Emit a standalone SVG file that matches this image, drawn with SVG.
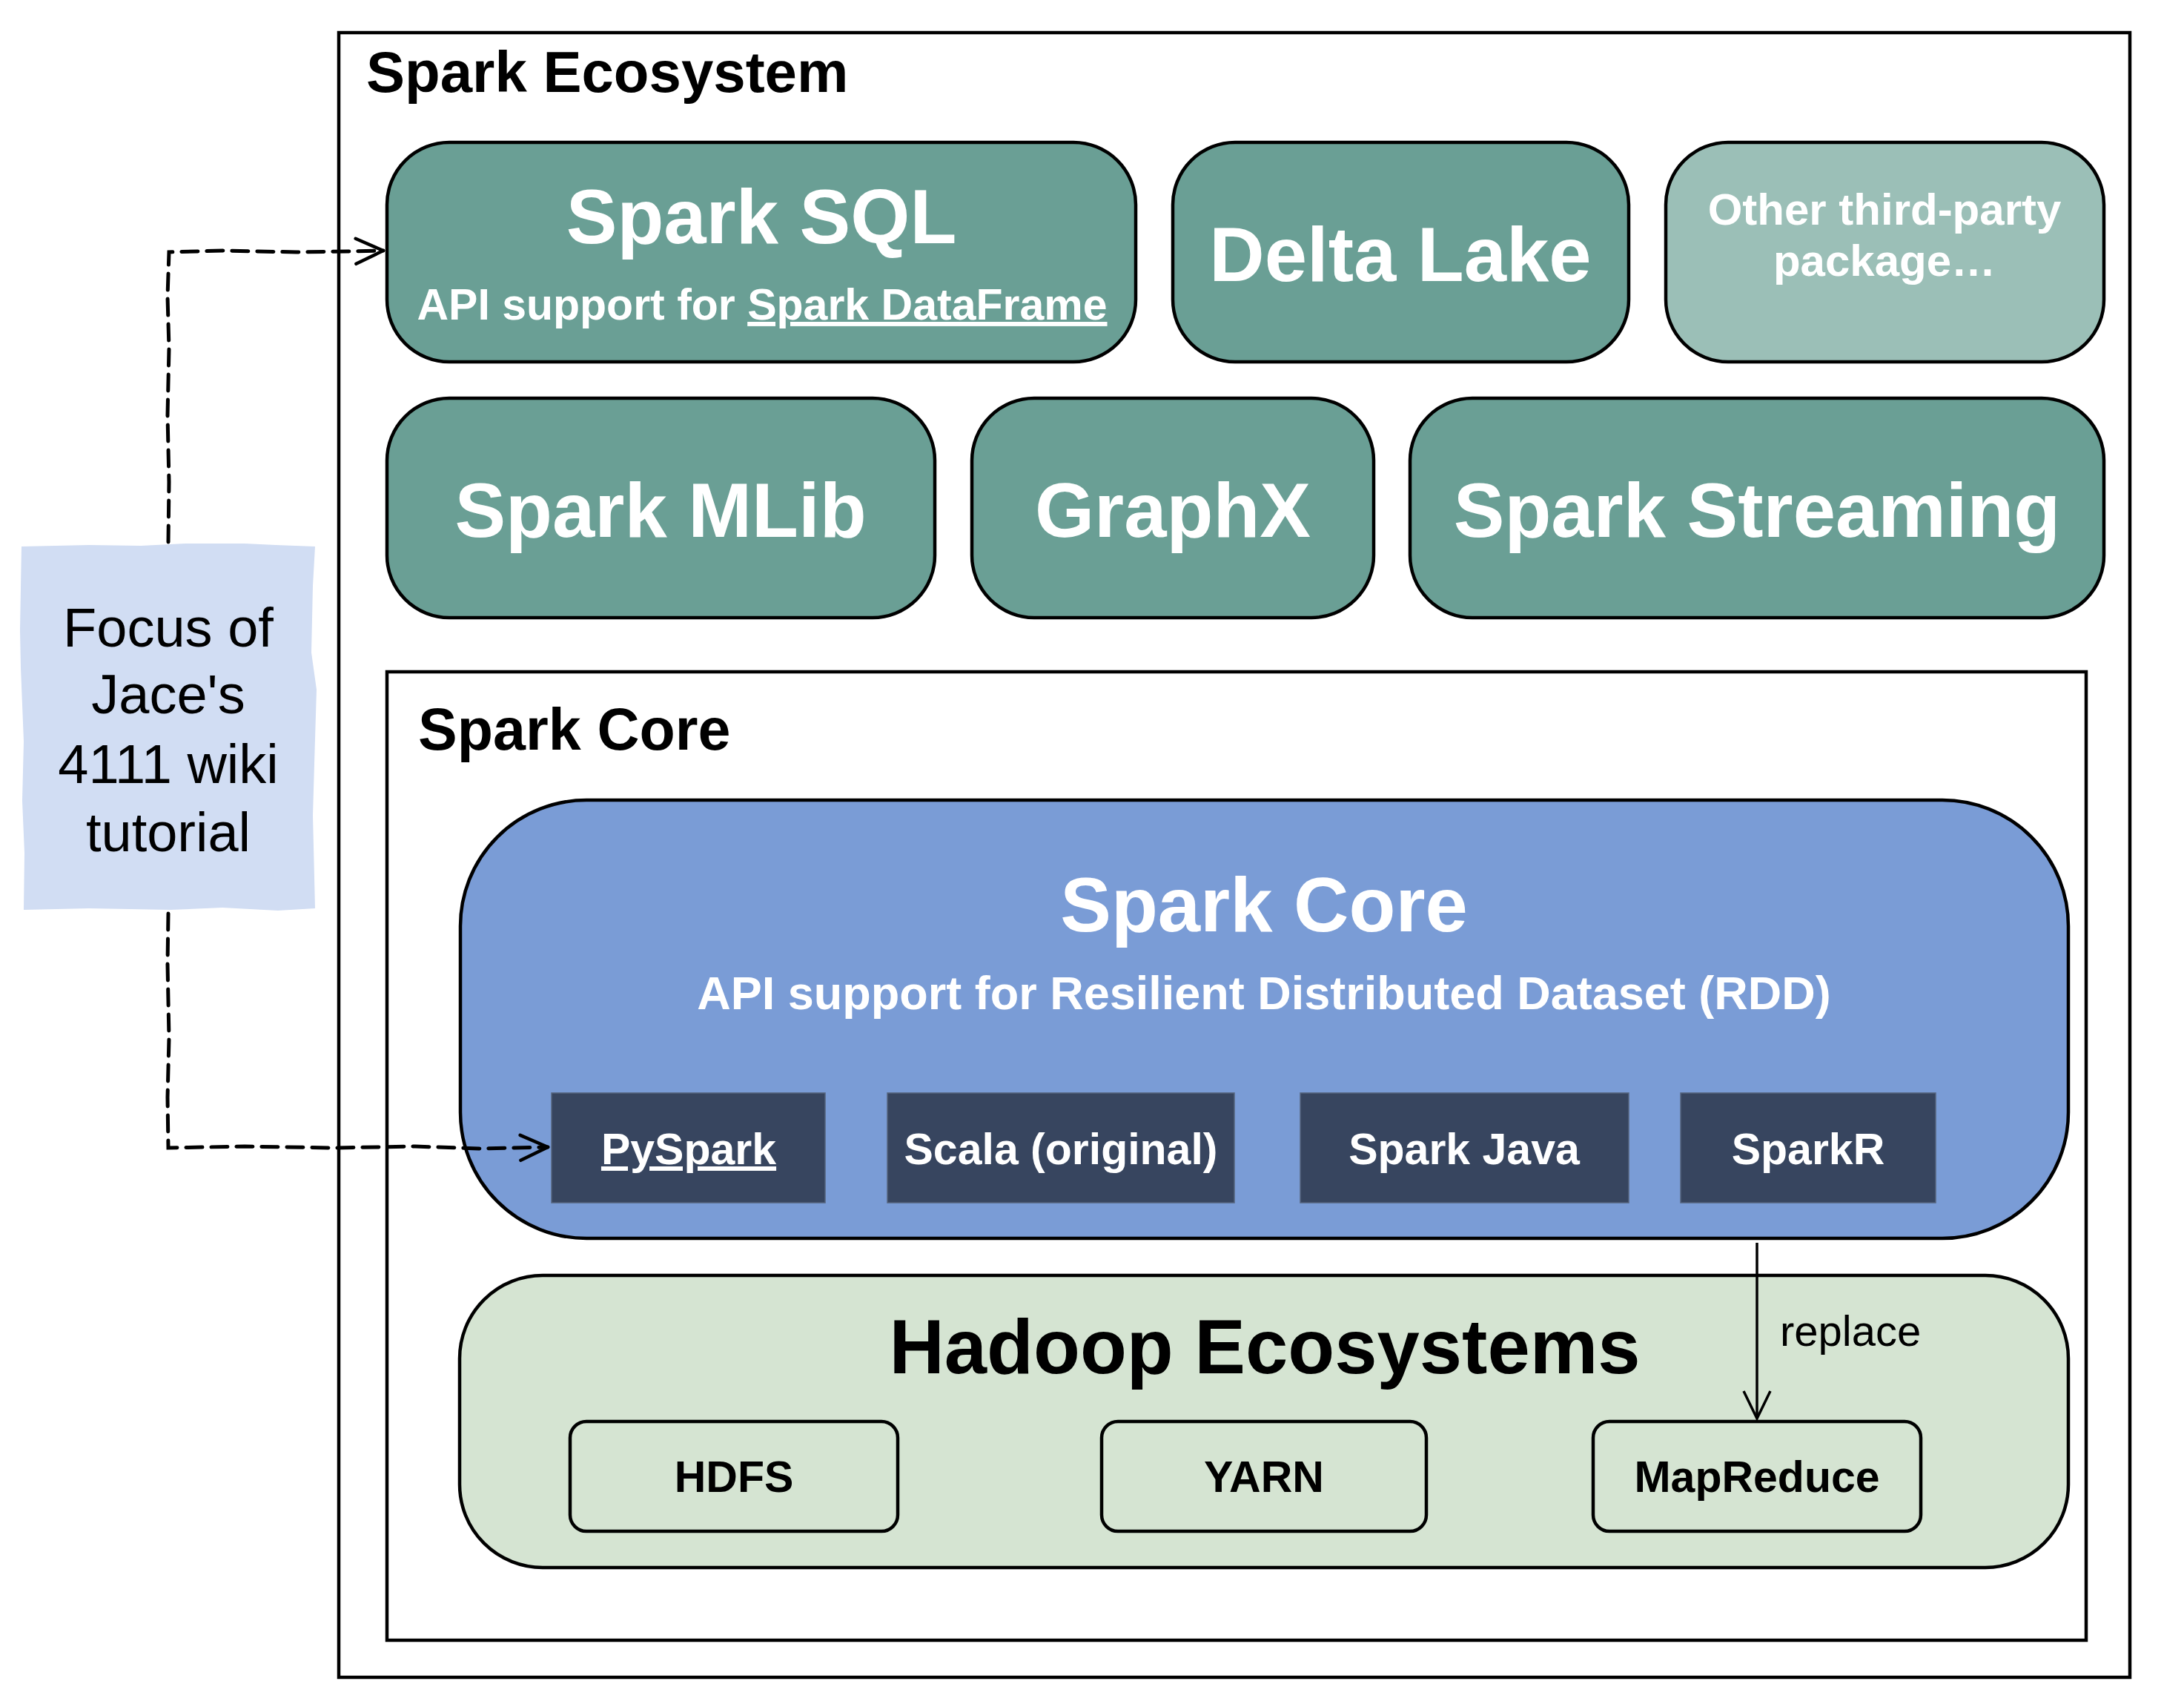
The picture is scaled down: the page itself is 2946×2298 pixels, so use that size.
<svg xmlns="http://www.w3.org/2000/svg" width="2946" height="2298" viewBox="0 0 2946 2298">
<defs>
<style>
.t{font-family:"Liberation Sans",Arial,Helvetica,sans-serif;font-weight:bold;}
.w{fill:#ffffff;}
.k{fill:#000000;}
.big{font-size:103px;}
.mid{font-size:59px;}
.teal{fill:#6a9f95;stroke:#000;stroke-width:4.5;}
.lang{fill:#37455f;stroke:#56647d;stroke-width:1.5;}
.sub{fill:#d5e4d2;stroke:#000;stroke-width:4.5;}
.dash{fill:none;stroke:#000;stroke-width:5;stroke-dasharray:22 12;stroke-linecap:round;}
</style>
<marker id="open" markerUnits="userSpaceOnUse" markerWidth="46" markerHeight="44" refX="40" refY="20" orient="auto" viewBox="0 0 46 40">
<path d="M3,3 L40,20 L3,37" fill="none" stroke="#000" stroke-width="4.5" stroke-linecap="round" stroke-linejoin="round"/>
</marker>
<marker id="open2" markerUnits="userSpaceOnUse" markerWidth="46" markerHeight="44" refX="40" refY="20" orient="auto" viewBox="0 0 46 40">
<path d="M3,2 L40,20 L3,38" fill="none" stroke="#000" stroke-width="3.5"/>
</marker>
</defs>
<rect width="2946" height="2298" fill="#ffffff"/>

<g id="spark-ecosystem">
<rect x="457" y="44" width="2416" height="2218" fill="#ffffff" stroke="#000" stroke-width="4.5"/>
<text class="t k" x="494" y="124" font-size="78">Spark Ecosystem</text>
</g>

<g id="spark-sql">
<rect class="teal" x="522" y="192" width="1010" height="296" rx="84" ry="84"/>
<text class="t w big" x="1027" y="328" text-anchor="middle">Spark SQL</text>
<text class="t w" x="1028" y="431" font-size="59" text-anchor="middle">API support for <tspan text-decoration="underline" style="text-decoration:underline">Spark DataFrame</tspan></text>
</g>

<g id="delta-lake">
<rect class="teal" x="1582" y="192" width="615" height="296" rx="84" ry="84"/>
<text class="t w big" x="1889" y="379" text-anchor="middle">Delta Lake</text>
</g>

<g id="other-packages">
<rect x="2247" y="192" width="591" height="296" rx="84" ry="84" fill="#9bbfb7" stroke="#000" stroke-width="4.5"/>
<text class="t w" x="2542" y="303" font-size="60" text-anchor="middle">Other third-party</text>
<text class="t w" x="2542" y="372" font-size="60" text-anchor="middle">package…</text>
</g>

<g id="spark-mlib">
<rect class="teal" x="522" y="537" width="739" height="296" rx="84" ry="84"/>
<text class="t w big" x="891" y="724" text-anchor="middle">Spark MLib</text>
</g>

<g id="graphx">
<rect class="teal" x="1311" y="537" width="542" height="296" rx="84" ry="84"/>
<text class="t w big" x="1582" y="724" text-anchor="middle">GraphX</text>
</g>

<g id="spark-streaming">
<rect class="teal" x="1902" y="537" width="936" height="296" rx="84" ry="84"/>
<text class="t w big" x="2370" y="724" text-anchor="middle">Spark Streaming</text>
</g>

<g id="spark-core-container">
<rect x="522" y="906" width="2292" height="1306" fill="#ffffff" stroke="#000" stroke-width="4.5"/>
<text class="t k" x="564" y="1011" font-size="79">Spark Core</text>
</g>

<g id="spark-core">
<rect x="621" y="1079" width="2169" height="591" rx="170" ry="170" fill="#7a9cd6" stroke="#000" stroke-width="4.5"/>
<text class="t w big" x="1705" y="1256" text-anchor="middle">Spark Core</text>
<text class="t w" x="1705" y="1361" font-size="63" text-anchor="middle">API support for Resilient Distributed Dataset (RDD)</text>
</g>

<g id="pyspark">
<rect class="lang" x="744" y="1474" width="369" height="148"/>
<text class="t w mid" x="929" y="1570" text-anchor="middle" text-decoration="underline" style="text-decoration:underline">PySpark</text>
</g>

<g id="scala">
<rect class="lang" x="1197" y="1474" width="468" height="148"/>
<text class="t w mid" x="1431" y="1570" text-anchor="middle">Scala (original)</text>
</g>

<g id="spark-java">
<rect class="lang" x="1754" y="1474" width="443" height="148"/>
<text class="t w mid" x="1975" y="1570" text-anchor="middle">Spark Java</text>
</g>

<g id="sparkr">
<rect class="lang" x="2267" y="1474" width="344" height="148"/>
<text class="t w mid" x="2439" y="1570" text-anchor="middle">SparkR</text>
</g>

<g id="hadoop">
<rect class="sub" x="620" y="1720" width="2170" height="394" rx="112" ry="112"/>
<text class="t k big" x="1706" y="1852" text-anchor="middle">Hadoop Ecosystems</text>
</g>

<g id="hdfs">
<rect class="sub" x="769" y="1917" width="442" height="148" rx="22" ry="22"/>
<text class="t k mid" x="990" y="2012" text-anchor="middle">HDFS</text>
</g>

<g id="yarn">
<rect class="sub" x="1486" y="1917" width="438" height="148" rx="22" ry="22"/>
<text class="t k mid" x="1705" y="2012" text-anchor="middle">YARN</text>
</g>

<g id="mapreduce">
<rect class="sub" x="2149" y="1917" width="442" height="148" rx="22" ry="22"/>
<text class="t k mid" x="2370" y="2012" text-anchor="middle">MapReduce</text>
</g>

<g id="focus-note">
<path d="M29 737 L120 735 L190 736 L250 733 L330 733 L372 735 L425 737 L422 790 L420 880 L427 930 L424 1030 L422 1100 L425 1225 L375 1228 L300 1224 L230 1227 L175 1226 L120 1225 L32 1227 L33 1150 L30 1080 L32 1000 L28 900 L27 850 Z" fill="#d1ddf3"/>
<g font-family="'Liberation Sans',Arial,sans-serif" font-size="74" fill="#000" text-anchor="middle">
<text x="227" y="872">Focus of</text>
<text x="227" y="962">Jace's</text>
<text x="227" y="1056">4111 wiki</text>
<text x="227" y="1148">tutorial</text>
</g>
</g>

<g id="connectors">
<path class="dash" d="M227 731 L228 650 L226 560 L228 470 L226 400 L228 340 L300 338 L400 340 L470 339 L517 338" marker-end="url(#open)"/>
<path class="dash" d="M227 1232 L226 1300 L228 1400 L226 1480 L227 1548 L330 1546 L450 1548 L560 1546 L650 1549 L739 1547" marker-end="url(#open)"/>
<path d="M2370 1676 L2370 1913" fill="none" stroke="#000" stroke-width="3.5" marker-end="url(#open2)"/>
<text x="2401" y="1815" font-family="'Liberation Sans',Arial,sans-serif" font-size="58" fill="#000">replace</text>
</g>
</svg>
